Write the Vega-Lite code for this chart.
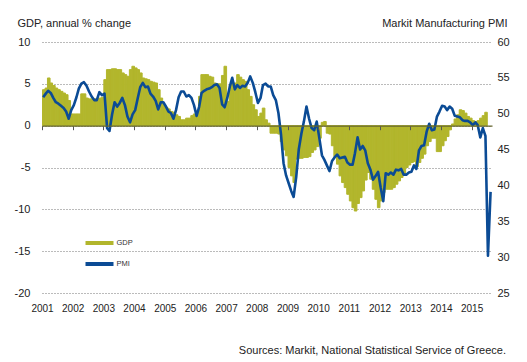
{
  "$schema": "https://vega.github.io/schema/vega-lite/v6.json",
  "width": 450,
  "height": 251,
  "autosize": {"type": "none"},
  "padding": {"left": 42, "top": 42, "right": 35, "bottom": 69},
  "background": "white",
  "config": {
    "view": {"stroke": null},
    "font": "Liberation Sans",
    "axis": {"labelFont": "Liberation Sans", "titleFont": "Liberation Sans"},
    "legend": {"labelFont": "Liberation Sans"},
    "bar": {"binSpacing": 0}
  },
  "title": {
    "text": "Sources: Markit, National Statistical Service of Greece.",
    "orient": "bottom",
    "anchor": "end",
    "frame": "group",
    "dx": 14,
    "offset": 32,
    "fontSize": 11,
    "fontWeight": "normal",
    "color": "#222222",
    "font": "Liberation Sans"
  },
  "data": {
    "values": [
      {"d": "2001/01/15", "gdp": 4.3, "pmi": 52.3},
      {"d": "2001/02/15", "gdp": 4.5, "pmi": 52.8},
      {"d": "2001/03/15", "gdp": 5.7, "pmi": 53.2},
      {"d": "2001/04/15", "gdp": 5.1, "pmi": 52.9},
      {"d": "2001/05/15", "gdp": 4.8, "pmi": 52.2},
      {"d": "2001/06/15", "gdp": 4.5, "pmi": 51.6},
      {"d": "2001/07/15", "gdp": 4.3, "pmi": 51.4},
      {"d": "2001/08/15", "gdp": 4.1, "pmi": 51.1},
      {"d": "2001/09/15", "gdp": 3.9, "pmi": 50.8},
      {"d": "2001/10/15", "gdp": 3.7, "pmi": 50.3},
      {"d": "2001/11/15", "gdp": 3.0, "pmi": 49.3},
      {"d": "2001/12/15", "gdp": 1.4, "pmi": 50.5},
      {"d": "2002/01/15", "gdp": 1.4, "pmi": 51.2},
      {"d": "2002/02/15", "gdp": 1.4, "pmi": 52.3},
      {"d": "2002/03/15", "gdp": 1.4, "pmi": 53.5},
      {"d": "2002/04/15", "gdp": 3.8, "pmi": 54.2},
      {"d": "2002/05/15", "gdp": 3.8, "pmi": 54.4},
      {"d": "2002/06/15", "gdp": 3.3, "pmi": 53.9},
      {"d": "2002/07/15", "gdp": 3.2, "pmi": 53.1},
      {"d": "2002/08/15", "gdp": 3.2, "pmi": 52.4},
      {"d": "2002/09/15", "gdp": 3.2, "pmi": 51.9},
      {"d": "2002/10/15", "gdp": 3.2, "pmi": 51.9},
      {"d": "2002/11/15", "gdp": 3.3, "pmi": 53.0},
      {"d": "2002/12/15", "gdp": 3.4, "pmi": 52.6},
      {"d": "2003/01/15", "gdp": 5.5, "pmi": 52.8},
      {"d": "2003/02/15", "gdp": 6.7, "pmi": 48.0},
      {"d": "2003/03/15", "gdp": 6.7, "pmi": 47.6},
      {"d": "2003/04/15", "gdp": 6.8, "pmi": 49.9},
      {"d": "2003/05/15", "gdp": 6.8, "pmi": 51.6},
      {"d": "2003/06/15", "gdp": 6.7, "pmi": 51.0},
      {"d": "2003/07/15", "gdp": 6.7, "pmi": 51.5},
      {"d": "2003/08/15", "gdp": 6.3, "pmi": 52.2},
      {"d": "2003/09/15", "gdp": 6.1, "pmi": 51.2},
      {"d": "2003/10/15", "gdp": 5.9, "pmi": 49.6},
      {"d": "2003/11/15", "gdp": 6.7, "pmi": 48.8},
      {"d": "2003/12/15", "gdp": 7.1, "pmi": 49.9},
      {"d": "2004/01/15", "gdp": 6.9, "pmi": 50.5},
      {"d": "2004/02/15", "gdp": 6.7, "pmi": 52.2},
      {"d": "2004/03/15", "gdp": 6.3, "pmi": 53.7},
      {"d": "2004/04/15", "gdp": 5.7, "pmi": 54.3},
      {"d": "2004/05/15", "gdp": 5.6, "pmi": 53.7},
      {"d": "2004/06/15", "gdp": 5.5, "pmi": 53.8},
      {"d": "2004/07/15", "gdp": 5.3, "pmi": 52.8},
      {"d": "2004/08/15", "gdp": 5.2, "pmi": 52.4},
      {"d": "2004/09/15", "gdp": 5.1, "pmi": 51.8},
      {"d": "2004/10/15", "gdp": 4.3, "pmi": 50.6},
      {"d": "2004/11/15", "gdp": 3.3, "pmi": 51.6},
      {"d": "2004/12/15", "gdp": 2.5, "pmi": 51.6},
      {"d": "2005/01/15", "gdp": 2.2, "pmi": 51.0},
      {"d": "2005/02/15", "gdp": 2.0, "pmi": 50.3},
      {"d": "2005/03/15", "gdp": 1.7, "pmi": 50.1},
      {"d": "2005/04/15", "gdp": 1.6, "pmi": 49.3},
      {"d": "2005/05/15", "gdp": 1.3, "pmi": 50.5},
      {"d": "2005/06/15", "gdp": 1.1, "pmi": 52.3},
      {"d": "2005/07/15", "gdp": 0.7, "pmi": 53.1},
      {"d": "2005/08/15", "gdp": 0.7, "pmi": 53.1},
      {"d": "2005/09/15", "gdp": 0.9, "pmi": 52.4},
      {"d": "2005/10/15", "gdp": 0.9, "pmi": 52.6},
      {"d": "2005/11/15", "gdp": 1.2, "pmi": 52.2},
      {"d": "2005/12/15", "gdp": 1.4, "pmi": 51.2},
      {"d": "2006/01/15", "gdp": 1.3, "pmi": 49.7},
      {"d": "2006/02/15", "gdp": 3.5, "pmi": 51.0},
      {"d": "2006/03/15", "gdp": 6.1, "pmi": 52.9},
      {"d": "2006/04/15", "gdp": 6.1, "pmi": 53.2},
      {"d": "2006/05/15", "gdp": 6.1, "pmi": 53.4},
      {"d": "2006/06/15", "gdp": 5.9, "pmi": 53.5},
      {"d": "2006/07/15", "gdp": 5.8, "pmi": 53.7},
      {"d": "2006/08/15", "gdp": 5.1, "pmi": 54.0},
      {"d": "2006/09/15", "gdp": 5.0, "pmi": 54.1},
      {"d": "2006/10/15", "gdp": 5.0, "pmi": 53.6},
      {"d": "2006/11/15", "gdp": 6.0, "pmi": 51.3},
      {"d": "2006/12/15", "gdp": 7.1, "pmi": 50.9},
      {"d": "2007/01/15", "gdp": 2.9, "pmi": 52.2},
      {"d": "2007/02/15", "gdp": 4.9, "pmi": 53.8},
      {"d": "2007/03/15", "gdp": 5.1, "pmi": 55.0},
      {"d": "2007/04/15", "gdp": 5.1, "pmi": 53.4},
      {"d": "2007/05/15", "gdp": 6.1, "pmi": 54.0},
      {"d": "2007/06/15", "gdp": 5.8, "pmi": 53.6},
      {"d": "2007/07/15", "gdp": 5.5, "pmi": 53.9},
      {"d": "2007/08/15", "gdp": 5.3, "pmi": 53.8},
      {"d": "2007/09/15", "gdp": 4.3, "pmi": 54.3},
      {"d": "2007/10/15", "gdp": 3.5, "pmi": 55.2},
      {"d": "2007/11/15", "gdp": 2.5, "pmi": 54.3},
      {"d": "2007/12/15", "gdp": 1.9, "pmi": 53.0},
      {"d": "2008/01/15", "gdp": 1.1, "pmi": 51.5},
      {"d": "2008/02/15", "gdp": 1.5, "pmi": 52.2},
      {"d": "2008/03/15", "gdp": 2.1, "pmi": 54.0},
      {"d": "2008/04/15", "gdp": 0.7, "pmi": 54.2},
      {"d": "2008/05/15", "gdp": 0.3, "pmi": 53.8},
      {"d": "2008/06/15", "gdp": -0.9, "pmi": 53.8},
      {"d": "2008/07/15", "gdp": -0.9, "pmi": 52.6},
      {"d": "2008/08/15", "gdp": -0.9, "pmi": 51.9},
      {"d": "2008/09/15", "gdp": -1.0, "pmi": 50.1},
      {"d": "2008/10/15", "gdp": -1.9, "pmi": 47.2},
      {"d": "2008/11/15", "gdp": -2.9, "pmi": 43.1},
      {"d": "2008/12/15", "gdp": -3.6, "pmi": 41.4},
      {"d": "2009/01/15", "gdp": -5.0, "pmi": 40.3},
      {"d": "2009/02/15", "gdp": -6.0, "pmi": 39.2},
      {"d": "2009/03/15", "gdp": -6.8, "pmi": 38.4},
      {"d": "2009/04/15", "gdp": -4.0, "pmi": 41.2},
      {"d": "2009/05/15", "gdp": -3.9, "pmi": 45.0},
      {"d": "2009/06/15", "gdp": -3.9, "pmi": 47.2},
      {"d": "2009/07/15", "gdp": -3.8, "pmi": 48.9},
      {"d": "2009/08/15", "gdp": -3.8, "pmi": 51.0},
      {"d": "2009/09/15", "gdp": -3.7, "pmi": 49.3},
      {"d": "2009/10/15", "gdp": -3.2, "pmi": 48.0},
      {"d": "2009/11/15", "gdp": -2.9, "pmi": 47.7},
      {"d": "2009/12/15", "gdp": -2.5, "pmi": 48.9},
      {"d": "2010/01/15", "gdp": -1.5, "pmi": 46.6},
      {"d": "2010/02/15", "gdp": 0.4, "pmi": 44.2},
      {"d": "2010/03/15", "gdp": 0.5, "pmi": 43.6},
      {"d": "2010/04/15", "gdp": -0.9, "pmi": 42.8},
      {"d": "2010/05/15", "gdp": -1.0, "pmi": 42.0},
      {"d": "2010/06/15", "gdp": -2.4, "pmi": 43.4},
      {"d": "2010/07/15", "gdp": -3.7, "pmi": 43.9},
      {"d": "2010/08/15", "gdp": -4.6, "pmi": 44.3},
      {"d": "2010/09/15", "gdp": -6.0, "pmi": 43.8},
      {"d": "2010/10/15", "gdp": -6.8, "pmi": 43.9},
      {"d": "2010/11/15", "gdp": -7.4, "pmi": 44.0},
      {"d": "2010/12/15", "gdp": -8.2, "pmi": 43.2},
      {"d": "2011/01/15", "gdp": -9.0, "pmi": 42.9},
      {"d": "2011/02/15", "gdp": -9.8, "pmi": 42.9},
      {"d": "2011/03/15", "gdp": -10.2, "pmi": 44.5},
      {"d": "2011/04/15", "gdp": -9.3, "pmi": 46.7},
      {"d": "2011/05/15", "gdp": -8.6, "pmi": 45.0},
      {"d": "2011/06/15", "gdp": -7.8, "pmi": 45.5},
      {"d": "2011/07/15", "gdp": -6.5, "pmi": 44.9},
      {"d": "2011/08/15", "gdp": -5.6, "pmi": 43.1},
      {"d": "2011/09/15", "gdp": -6.4, "pmi": 42.2},
      {"d": "2011/10/15", "gdp": -7.6, "pmi": 40.8},
      {"d": "2011/11/15", "gdp": -8.8, "pmi": 41.3},
      {"d": "2011/12/15", "gdp": -9.8, "pmi": 41.9},
      {"d": "2012/01/15", "gdp": -9.0, "pmi": 39.7},
      {"d": "2012/02/15", "gdp": -8.0, "pmi": 37.8},
      {"d": "2012/03/15", "gdp": -7.6, "pmi": 41.7},
      {"d": "2012/04/15", "gdp": -7.6, "pmi": 41.5},
      {"d": "2012/05/15", "gdp": -7.6, "pmi": 41.8},
      {"d": "2012/06/15", "gdp": -7.4, "pmi": 41.5},
      {"d": "2012/07/15", "gdp": -7.0, "pmi": 42.2},
      {"d": "2012/08/15", "gdp": -6.6, "pmi": 42.1},
      {"d": "2012/09/15", "gdp": -6.2, "pmi": 42.3},
      {"d": "2012/10/15", "gdp": -5.8, "pmi": 41.5},
      {"d": "2012/11/15", "gdp": -5.0, "pmi": 41.5},
      {"d": "2012/12/15", "gdp": -4.7, "pmi": 41.8},
      {"d": "2013/01/15", "gdp": -4.4, "pmi": 41.9},
      {"d": "2013/02/15", "gdp": -4.3, "pmi": 42.8},
      {"d": "2013/03/15", "gdp": -4.9, "pmi": 42.3},
      {"d": "2013/04/15", "gdp": -4.4, "pmi": 44.9},
      {"d": "2013/05/15", "gdp": -3.9, "pmi": 45.5},
      {"d": "2013/06/15", "gdp": -3.4, "pmi": 45.6},
      {"d": "2013/07/15", "gdp": -2.4, "pmi": 47.5},
      {"d": "2013/08/15", "gdp": -1.9, "pmi": 48.6},
      {"d": "2013/09/15", "gdp": -1.5, "pmi": 47.7},
      {"d": "2013/10/15", "gdp": -1.5, "pmi": 47.8},
      {"d": "2013/11/15", "gdp": -3.1, "pmi": 49.6},
      {"d": "2013/12/15", "gdp": -3.1, "pmi": 50.3},
      {"d": "2014/01/15", "gdp": -2.4, "pmi": 51.1},
      {"d": "2014/02/15", "gdp": -1.8, "pmi": 51.0},
      {"d": "2014/03/15", "gdp": -1.3, "pmi": 50.5},
      {"d": "2014/04/15", "gdp": -0.5, "pmi": 51.0},
      {"d": "2014/05/15", "gdp": 0.2, "pmi": 50.7},
      {"d": "2014/06/15", "gdp": 0.8, "pmi": 49.7},
      {"d": "2014/07/15", "gdp": 1.3, "pmi": 49.6},
      {"d": "2014/08/15", "gdp": 1.9, "pmi": 49.5},
      {"d": "2014/09/15", "gdp": 1.8, "pmi": 49.1},
      {"d": "2014/10/15", "gdp": 1.5, "pmi": 49.0},
      {"d": "2014/11/15", "gdp": 1.1, "pmi": 49.0},
      {"d": "2014/12/15", "gdp": 0.9, "pmi": 48.8},
      {"d": "2015/01/15", "gdp": 0.6, "pmi": 48.4},
      {"d": "2015/02/15", "gdp": 0.5, "pmi": 48.8},
      {"d": "2015/03/15", "gdp": 0.6, "pmi": 48.4},
      {"d": "2015/04/15", "gdp": 0.9, "pmi": 46.7},
      {"d": "2015/05/15", "gdp": 1.2, "pmi": 48.0},
      {"d": "2015/06/15", "gdp": 1.6, "pmi": 46.9},
      {"d": "2015/07/15", "gdp": null, "pmi": 30.2},
      {"d": "2015/08/15", "gdp": null, "pmi": 39.1}
    ]
  },
  "layer": [
    {
      "mark": {"type": "bar", "binSpacing": 0, "stroke": "#b2b62c", "strokeWidth": 1},
      "encoding": {
        "x": {
          "field": "d",
          "timeUnit": "yearmonth",
          "type": "temporal",
          "scale": {"domain": [{"year": 2001, "month": 1, "date": 1}, {"year": 2015, "month": 9, "date": 1}]},
          "axis": {
            "format": "%Y",
            "formatType": "time",
            "tickCount": {"interval": "year", "step": 1},
            "ticks": false,
            "tickSize": 0,
            "domain": false,
            "grid": false,
            "labelFontSize": 10,
            "labelColor": "#222222",
            "labelPadding": 18,
            "labelBaseline": "alphabetic",
            "labelFlush": false,
            "labelBound": false,
            "labelOverlap": false,
            "title": null
          }
        },
        "y": {
          "field": "gdp",
          "type": "quantitative",
          "scale": {"domain": [-20, 10]},
          "axis": {
            "values": [-20, -15, -10, -5, 0, 5, 10],
            "labelExpr": "datum.value + ''",
            "title": "GDP, annual % change",
            "titleAngle": 0,
            "titleAlign": "left",
            "titleBaseline": "alphabetic",
            "titleX": -25,
            "titleY": -16,
            "titleFontSize": 11,
            "titleFontWeight": "normal",
            "titleColor": "#222222",
            "labelFontSize": 11,
            "labelColor": "#222222",
            "labelPadding": 12,
            "ticks": false,
            "tickSize": 0,
            "domain": false,
            "grid": true,
            "gridColor": "#777777",
            "gridDash": [1, 2],
            "gridWidth": 1
          }
        },
        "color": {
          "datum": "GDP",
          "type": "nominal",
          "scale": {"domain": ["GDP", "PMI"], "range": ["#b2b62c", "#0b4b95"]},
          "legend": {
            "title": null,
            "orient": "none",
            "legendX": 48.5,
            "legendY": 192,
            "padding": 0,
            "symbolType": "M-2,0H2",
            "symbolSize": 196,
            "symbolStrokeWidth": 4,
            "labelOffset": 8,
            "labelFontSize": 7.5,
            "labelColor": "#333333",
            "rowPadding": 4,
            "encode": {
              "symbols": {
                "update": {
                  "stroke": {"signal": "datum.value === 'GDP' ? '#b2b62c' : '#0b4b95'"},
                  "strokeWidth": {"signal": "datum.value === 'GDP' ? 4.5 : 3"},
                  "fill": {"value": "transparent"},
                  "opacity": {"value": 1}
                }
              }
            }
          }
        }
      }
    },
    {
      "mark": {"type": "line", "strokeWidth": 2.6, "strokeJoin": "round"},
      "encoding": {
        "x": {
          "field": "d",
          "type": "temporal",
          "axis": {
            "orient": "bottom",
            "offset": -167.3,
            "labels": false,
            "ticks": true,
            "tickSize": 4,
            "tickColor": "#555555",
            "tickWidth": 1,
            "domain": true,
            "domainColor": "#66662f",
            "domainWidth": 1.3,
            "grid": false,
            "title": null,
            "tickCount": {"interval": "year", "step": 1},
            "zindex": 1
          }
        },
        "y": {
          "field": "pmi",
          "type": "quantitative",
          "scale": {"domain": [25, 60]},
          "axis": {
            "orient": "right",
            "values": [25, 30, 35, 40, 45, 50, 55, 60],
            "title": "Markit Manufacturing PMI",
            "titleAngle": 0,
            "titleAlign": "right",
            "titleBaseline": "alphabetic",
            "titleX": 15,
            "titleY": -16,
            "titleFontSize": 11,
            "titleFontWeight": "normal",
            "titleColor": "#222222",
            "labelFontSize": 11,
            "labelColor": "#222222",
            "labelPadding": 5,
            "ticks": false,
            "tickSize": 0,
            "domain": false,
            "grid": false
          }
        },
        "color": {"datum": "PMI", "type": "nominal"}
      }
    }
  ],
  "resolve": {"scale": {"y": "independent"}, "axis": {"x": "independent"}}
}
